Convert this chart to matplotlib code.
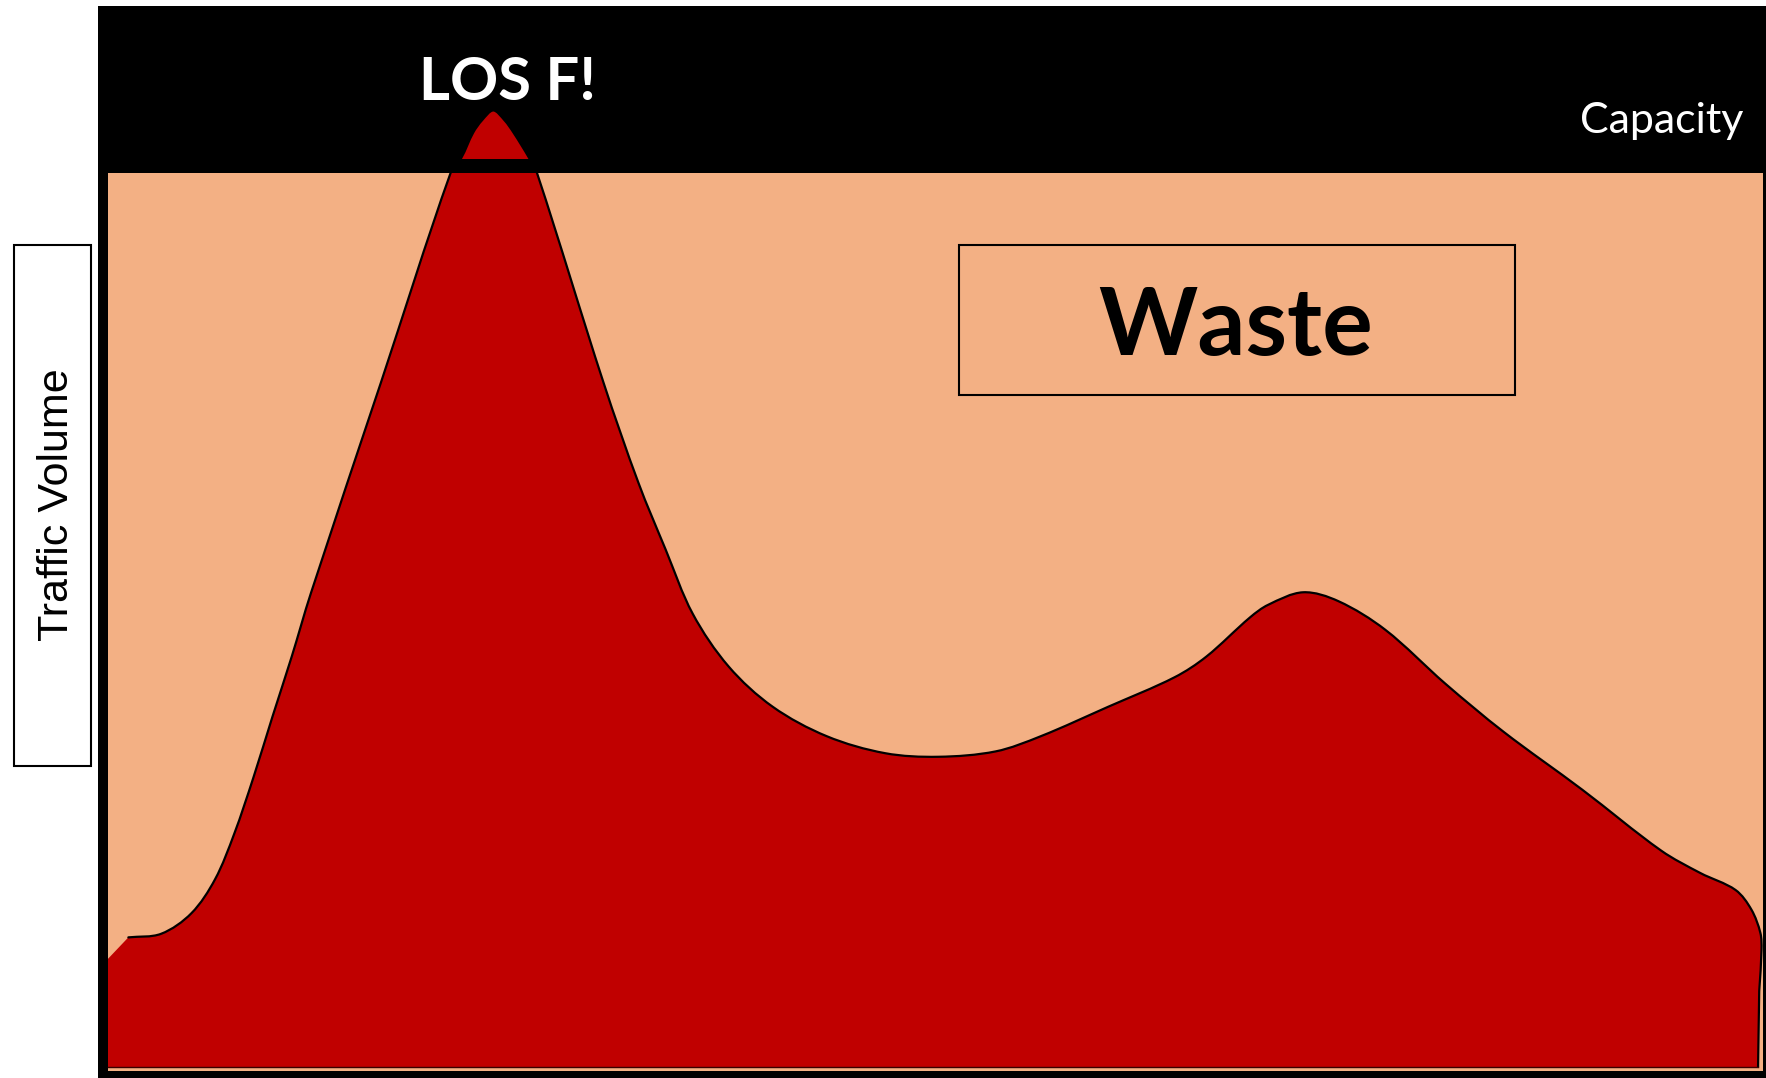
import numpy as np
import matplotlib
matplotlib.use("Agg")
import matplotlib.pyplot as plt
from matplotlib.patches import Rectangle, PathPatch
from matplotlib.path import Path

# ---- data (time in % of period, traffic volume in % of capacity) ----
time = [0.0, 1.23, 3.21, 5.04, 6.47, 7.63, 8.79, 9.94, 11.10, 12.26, 16.48,
        20.70, 21.35, 22.06, 22.60, 23.28, 23.96, 24.51, 25.44, 25.94,
        29.95, 32.06, 33.69, 35.33, 37.50, 40.16, 43.43, 46.96, 50.16, 53.63,
        56.36, 60.44, 64.45, 66.36, 69.01, 70.10, 72.21, 74.35, 77.18, 80.79,
        84.32, 89.09, 93.85, 96.21, 98.34, 99.30, 99.84, 99.91, 99.77, 99.70]
volume = [12.1, 14.5, 14.9, 17.2, 21.0, 26.1, 32.4, 39.2, 45.9, 53.0, 76.5,
          100.0, 101.7, 104.5, 105.9, 107.0, 105.9, 104.5, 101.7, 99.9,
          76.5, 65.3, 57.9, 50.7, 44.8, 40.3, 37.0, 35.1, 34.7, 35.3,
          37.0, 40.3, 43.6, 45.9, 50.3, 51.7, 53.1, 52.1, 48.9, 42.9,
          37.5, 31.0, 24.2, 21.7, 19.8, 17.6, 15.0, 13.1, 8.5, 0.0]
capacity = 100.0
period_end = 100.0

labels = {"los": "LOS F!", "cap": "Capacity", "waste": "Waste", "y": "Traffic Volume"}

PEACH = "#F3B084"
RED = "#C00000"
W, H = 1766, 1078

fig = plt.figure(figsize=(W / 100, H / 100), dpi=100)
fig.patch.set_facecolor("white")

ax = fig.add_axes([98 / W, 0, (W - 98) / W, (H - 6) / H])
ax.set_facecolor("black")
ax.set_xlim(-0.604, 100.18)
ax.set_ylim(-1.23, 118.68)
for s in ax.spines.values():
    s.set_visible(False)
ax.set_xticks([])
ax.set_yticks([])

# below-capacity (waste) zone
ax.fill_between([time[0], period_end], -0.45, capacity, color=PEACH, lw=0, zorder=1)


def smooth_path(xs, ys, sx=16.55, sy=8.94):
    """Chord-length Catmull-Rom rendered as cubic Bezier segments (Path CURVE4)."""
    P = np.column_stack([xs, ys]).astype(float)
    S = np.array([sx, sy])
    Q = P * S
    n = len(P)
    d = np.linalg.norm(np.diff(Q, axis=0), axis=1)
    d = np.maximum(d, 1e-6)
    tang = np.zeros_like(Q)
    for i in range(n):
        if i == 0:
            tang[i] = (Q[1] - Q[0]) / d[0]
        elif i == n - 1:
            tang[i] = (Q[-1] - Q[-2]) / d[-1]
        else:
            tang[i] = (Q[i + 1] - Q[i - 1]) / (d[i - 1] + d[i])
    verts = [P[0]]
    codes = [Path.MOVETO]
    for i in range(n - 1):
        c1 = (Q[i] + tang[i] * d[i] / 3) / S
        c2 = (Q[i + 1] - tang[i + 1] * d[i] / 3) / S
        verts += [c1, c2, P[i + 1]]
        codes += [Path.CURVE4] * 3
    return verts, codes


t = np.array(time)
v = np.array(volume)
cv, cc = smooth_path(t[1:-1], v[1:-1])

# filled area: left edge -> smooth top curve -> vertical drop -> baseline
fill_verts = [(t[0], 0.0), (t[0], v[0])] + list(cv) + [(t[-1], v[-1]), (t[0], 0.0), (t[0], 0.0)]
fill_codes = [Path.MOVETO, Path.LINETO] + [Path.LINETO] + cc[1:] + [Path.LINETO, Path.LINETO, Path.CLOSEPOLY]
ax.add_patch(PathPatch(Path(fill_verts, fill_codes), fc=RED, ec="none", lw=0, zorder=2))

# outline of the curve
line_verts = list(cv) + [(t[-1], v[-1])]
line_codes = cc + [Path.LINETO]
ax.add_patch(PathPatch(Path(line_verts, line_codes), fc="none", ec="black", lw=1.6,
                       zorder=3, joinstyle="round", capstyle="round"))
ax.plot([t[0], t[-1]], [0, 0], color="#3a0000", lw=1.0, zorder=3)

# capacity band edge cutting through the peak
ax.axhspan(capacity, capacity + 1.6, color="black", lw=0, zorder=4)

# texts
fig.text(507 / W, 1 - 100 / H, labels["los"], color="white", fontsize=43,
         fontweight="bold", family=["Lato", "DejaVu Sans"], ha="center", va="baseline")
fig.text(1743 / W, 1 - 133 / H, labels["cap"], color="white", fontsize=31,
         family=["Lato", "DejaVu Sans"], ha="right", va="baseline")
fig.text(1236 / W, 1 - 355 / H, labels["waste"], color="black", fontsize=68,
         fontweight="bold", family=["Lato", "DejaVu Sans"], ha="center", va="baseline",
         zorder=6)
fig.patches.append(Rectangle((959 / W, 1 - 395 / H), (1515 - 959) / W, (395 - 245) / H,
                             transform=fig.transFigure, fc="none", ec="black", lw=1.5,
                             zorder=6))

# y label box
fig.patches.append(Rectangle((13.5 / W, 1 - 766 / H), (90.5 - 13.5) / W, (766 - 245) / H,
                             transform=fig.transFigure, fc="white", ec="black", lw=1.5,
                             zorder=5))
fig.text(57 / W, 1 - 505 / H, labels["y"], color="black", fontsize=31, rotation=90,
         family=["Liberation Sans", "DejaVu Sans"], ha="center", va="center", zorder=6)

fig.savefig("out.png", dpi=100)
